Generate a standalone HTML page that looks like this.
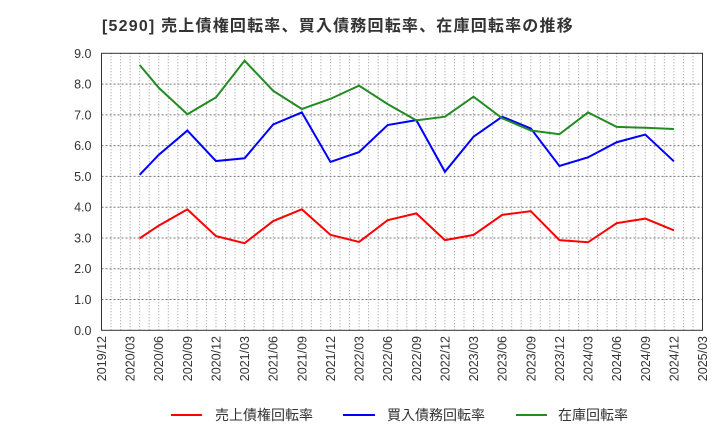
<!DOCTYPE html>
<html><head><meta charset="utf-8"><style>
body{margin:0;background:#fff;}
svg{display:block;font-family:"Liberation Sans","Noto Sans CJK JP",sans-serif;}
</style></head><body>
<svg id="chart" width="720" height="440" xmlns="http://www.w3.org/2000/svg">
<text x="102" y="31" font-size="16" font-weight="bold" fill="#333" letter-spacing="1.2">[5290]  売上債権回転率、買入債務回転率、在庫回転率の推移</text>
<g id="grid"></g><g id="axes"></g><g id="series"></g>
<g font-size="14" fill="#333">
<line x1="171" y1="415" x2="202" y2="415" stroke="#ff0000" stroke-width="2"/><text x="215" y="420">売上債権回転率</text>
<line x1="343" y1="415" x2="375" y2="415" stroke="#0000ff" stroke-width="2"/><text x="387" y="420">買入債務回転率</text>
<line x1="516" y1="415" x2="547" y2="415" stroke="#228b22" stroke-width="2"/><text x="558" y="420">在庫回転率</text>
</g>
</svg>
<script>
const tickLabels=["2019/12","2020/03","2020/06","2020/09","2020/12","2021/03","2021/06","2021/09","2021/12","2022/03","2022/06","2022/09","2022/12","2023/03","2023/06","2023/09","2023/12","2024/03","2024/06","2024/09","2024/12","2025/03"];
const yTicks=[0,1,2,3,4,5,6,7,8,9];
const monthIdx=[4,6,9,12,15,18,21,24,27,30,33,36,39,42,45,48,51,54,57,60];
const receivables=[2.99,3.40,3.93,3.06,2.83,3.55,3.93,3.10,2.87,3.58,3.80,2.93,3.10,3.75,3.87,2.93,2.86,3.48,3.63,3.25];
const payables=[5.05,5.70,6.49,5.50,5.59,6.69,7.08,5.47,5.79,6.67,6.83,5.15,6.29,6.94,6.56,5.34,5.62,6.11,6.36,5.49];
const inventory=[8.62,7.88,7.02,7.57,8.76,7.78,7.19,7.52,7.95,7.35,6.82,6.94,7.59,6.89,6.49,6.37,7.08,6.61,6.58,6.54];
const L=101.5,R=702.5,T=53.3,B=330.3,NM=63;
const xs=m=>L+(R-L)*m/NM, ys=v=>B-(B-T)*v/9;
const ns="http://www.w3.org/2000/svg";
function mk(t,a,p){const e=document.createElementNS(ns,t);for(const k in a)e.setAttribute(k,a[k]);p.appendChild(e);return e;}
const g=document.getElementById('grid'),ax=document.getElementById('axes'),se=document.getElementById('series');
for(let m=1;m<NM;m++){const l=mk('line',{x1:xs(m),x2:xs(m),y1:T,y2:B,stroke:'#999','stroke-width':1,'stroke-dasharray':'1,2'},g);

}
yTicks.forEach(v=>{if(v>0&&v<9){const l=mk('line',{x1:L,x2:R,y1:ys(v),y2:ys(v),stroke:'#777','stroke-width':1,'stroke-dasharray':'2,2'},g);

}
const t=mk('text',{x:L-10,y:ys(v)+4.5,'text-anchor':'end','font-size':12.5,fill:'#333'},ax);t.textContent=v.toFixed(1);

});
tickLabels.forEach((s,i)=>{const x=xs(i*3);const t=mk('text',{x:0,y:0,transform:`translate(${x+4.5},336) rotate(-90)`,'text-anchor':'end','font-size':12.5,fill:'#333'},ax);t.textContent=s;

});
const fr=mk('rect',{x:L,y:T,width:R-L,height:B-T,fill:'none',stroke:'#333','stroke-width':1},ax);


[[receivables,'#ff0000','receivables-line'],[payables,'#0000ff','payables-line'],[inventory,'#228b22','inventory-line']].forEach(([d,c,n])=>{
const p=mk('polyline',{points:d.map((v,i)=>xs(monthIdx[i])+','+ys(v)).join(' '),fill:'none',stroke:c,'stroke-width':2},se);

});
</script>
</body></html>
